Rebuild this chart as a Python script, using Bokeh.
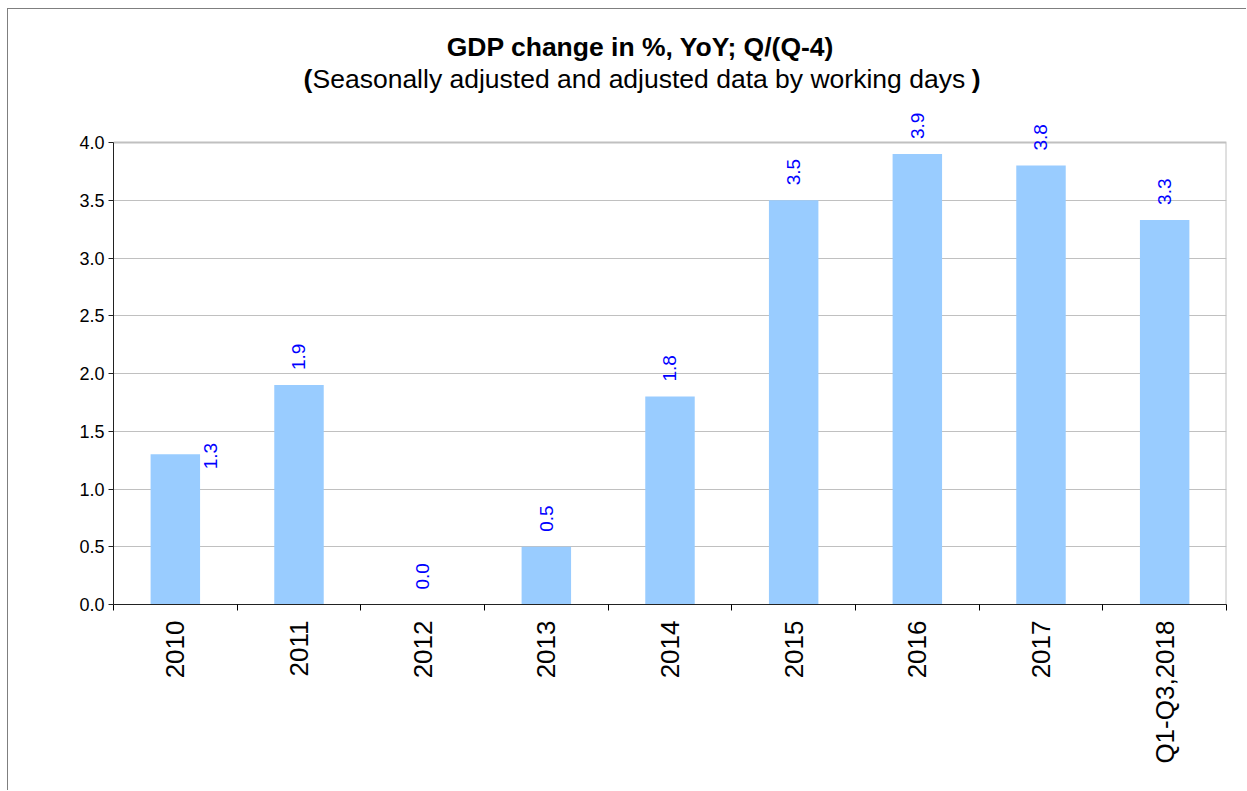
import math
from bokeh.plotting import figure
from bokeh.models import (Range1d, FixedTicker, Label, LabelSet, NumeralTickFormatter,
                          ColumnDataSource)
from bokeh.core.properties import value
from bokeh.embed import file_html
from bokeh.resources import INLINE

categories = ["2010", "2011", "2012", "2013", "2014", "2015", "2016", "2017", "Q1-Q3,2018"]
values = [1.3, 1.9, 0.0, 0.5, 1.8, 3.5, 3.9, 3.8, 3.33]
labels = ["1.3", "1.9", "0.0", "0.5", "1.8", "3.5", "3.9", "3.8", "3.3"]
y_ticks = [0.0, 0.5, 1.0, 1.5, 2.0, 2.5, 3.0, 3.5, 4.0]

FONT = "Liberation Sans"
OX, OY = 8, 9            # canvas origin on the page (after css margin + border)
W, H = 1247 - OX, 791 - OY
FL, FB, FT_AXIS = 113, 604, 142   # page px: frame left, axis bottom, y=4.0 line
frame_h = FB - OY
y_max = y_ticks[-1]
y_end = y_max * frame_h / (FB - FT_AXIS)

xs = [i + 0.5 for i in range(len(categories))]
n = len(categories)

p = figure(width=W, height=H, output_backend="svg", toolbar_location=None,
           x_range=Range1d(0, n), y_range=Range1d(0, y_end),
           min_border_left=FL - OX, min_border_right=W - (FL - OX) - 1113,
           min_border_top=0, min_border_bottom=H - (FB - OY))
p.styles = {"margin-left": "7px", "margin-top": "8px",
            "border-left": "1px solid #7f7f7f", "border-top": "1px solid #7f7f7f"}
p.background_fill_color = "white"
p.border_fill_color = "white"
p.outline_line_color = None

src = ColumnDataSource(dict(x=xs, top=values, label=labels))
p.vbar(x="x", top="top", width=0.4, bottom=0, source=src, fill_color="#99ccff", line_color=None)

# plot-area border (top and right)
p.line(x=[0, n, n], y=[y_max, y_max, 0], line_color="#c0c0c0", line_width=2)

# data labels
main = [i for i in range(n) if i != 0]
src_lab = ColumnDataSource(dict(x=[xs[i] for i in main], y=[values[i] for i in main],
                                t=[labels[i] for i in main]))
p.add_layout(LabelSet(x="x", y="y", text="t", source=src_lab, angle=math.pi / 2,
                      text_align="left", text_baseline="middle", y_offset=15,
                      text_color="#0000ff", text_font_size="19px", text_font=value(FONT)))
src_lab0 = ColumnDataSource(dict(x=[xs[0]], y=[values[0]], t=[labels[0]]))
p.add_layout(LabelSet(x="x", y="y", text="t", source=src_lab0, angle=math.pi / 2,
                      text_align="left", text_baseline="middle", x_offset=35, y_offset=-15,
                      text_color="#0000ff", text_font_size="19px", text_font=value(FONT)))

# axes
p.xgrid.visible = False
p.ygrid.grid_line_color = "#c0c0c0"
p.ygrid.grid_line_width = 1
p.ygrid.ticker = FixedTicker(ticks=y_ticks[:-1])

xa = p.xaxis[0]
xa.ticker = FixedTicker(ticks=xs, minor_ticks=list(range(n + 1)))
xa.major_label_overrides = {x: c for x, c in zip(xs, categories)}
xa.major_tick_in = 0
xa.major_tick_out = 0
xa.minor_tick_in = 0
xa.minor_tick_out = 6
xa.minor_tick_line_color = "black"
xa.major_label_orientation = math.pi / 2
xa.major_label_text_font = FONT
xa.major_label_text_font_size = "26px"
xa.major_label_text_color = "black"
xa.major_label_standoff = 10
xa.axis_line_color = "#222222"
xa.axis_line_width = 1

ya = p.yaxis[0]
ya.ticker = FixedTicker(ticks=y_ticks)
ya.bounds = (0, y_max)
ya.formatter = NumeralTickFormatter(format="0.0")
ya.major_tick_in = 0
ya.major_tick_out = 5
ya.minor_tick_out = 0
ya.minor_tick_in = 0
ya.major_tick_line_color = "#222222"
ya.major_label_text_font = FONT
ya.major_label_text_font_size = "18px"
ya.major_label_text_color = "black"
ya.major_label_standoff = 4
ya.axis_line_color = "#222222"

# titles (screen units relative to frame bottom-left)
TS = "26.5px"
p.add_layout(Label(x=640 - FL, y=FB - 46, x_units="screen", y_units="screen",
                   text="GDP change in %, YoY; Q/(Q-4)", text_align="center",
                   text_baseline="alphabetic", text_font=FONT, text_font_size=TS,
                   text_font_style="bold", text_color="black"))
sub_left = 303 - FL
sub_right = 980 - FL
sub_y = FB - 78
p.add_layout(Label(x=sub_left, y=sub_y, x_units="screen", y_units="screen", text="(",
                   text_align="left", text_baseline="alphabetic", text_font=FONT,
                   text_font_size=TS, text_font_style="bold", text_color="black"))
p.add_layout(Label(x=sub_left + 9, y=sub_y, x_units="screen", y_units="screen",
                   text="Seasonally adjusted and adjusted data by working days",
                   text_align="left", text_baseline="alphabetic", text_font=FONT,
                   text_font_size=TS, text_color="black"))
p.add_layout(Label(x=sub_right, y=sub_y, x_units="screen", y_units="screen", text=")",
                   text_align="right", text_baseline="alphabetic", text_font=FONT,
                   text_font_size=TS, text_font_style="bold", text_color="black"))

open("out.html", "w").write(file_html(p, INLINE))
